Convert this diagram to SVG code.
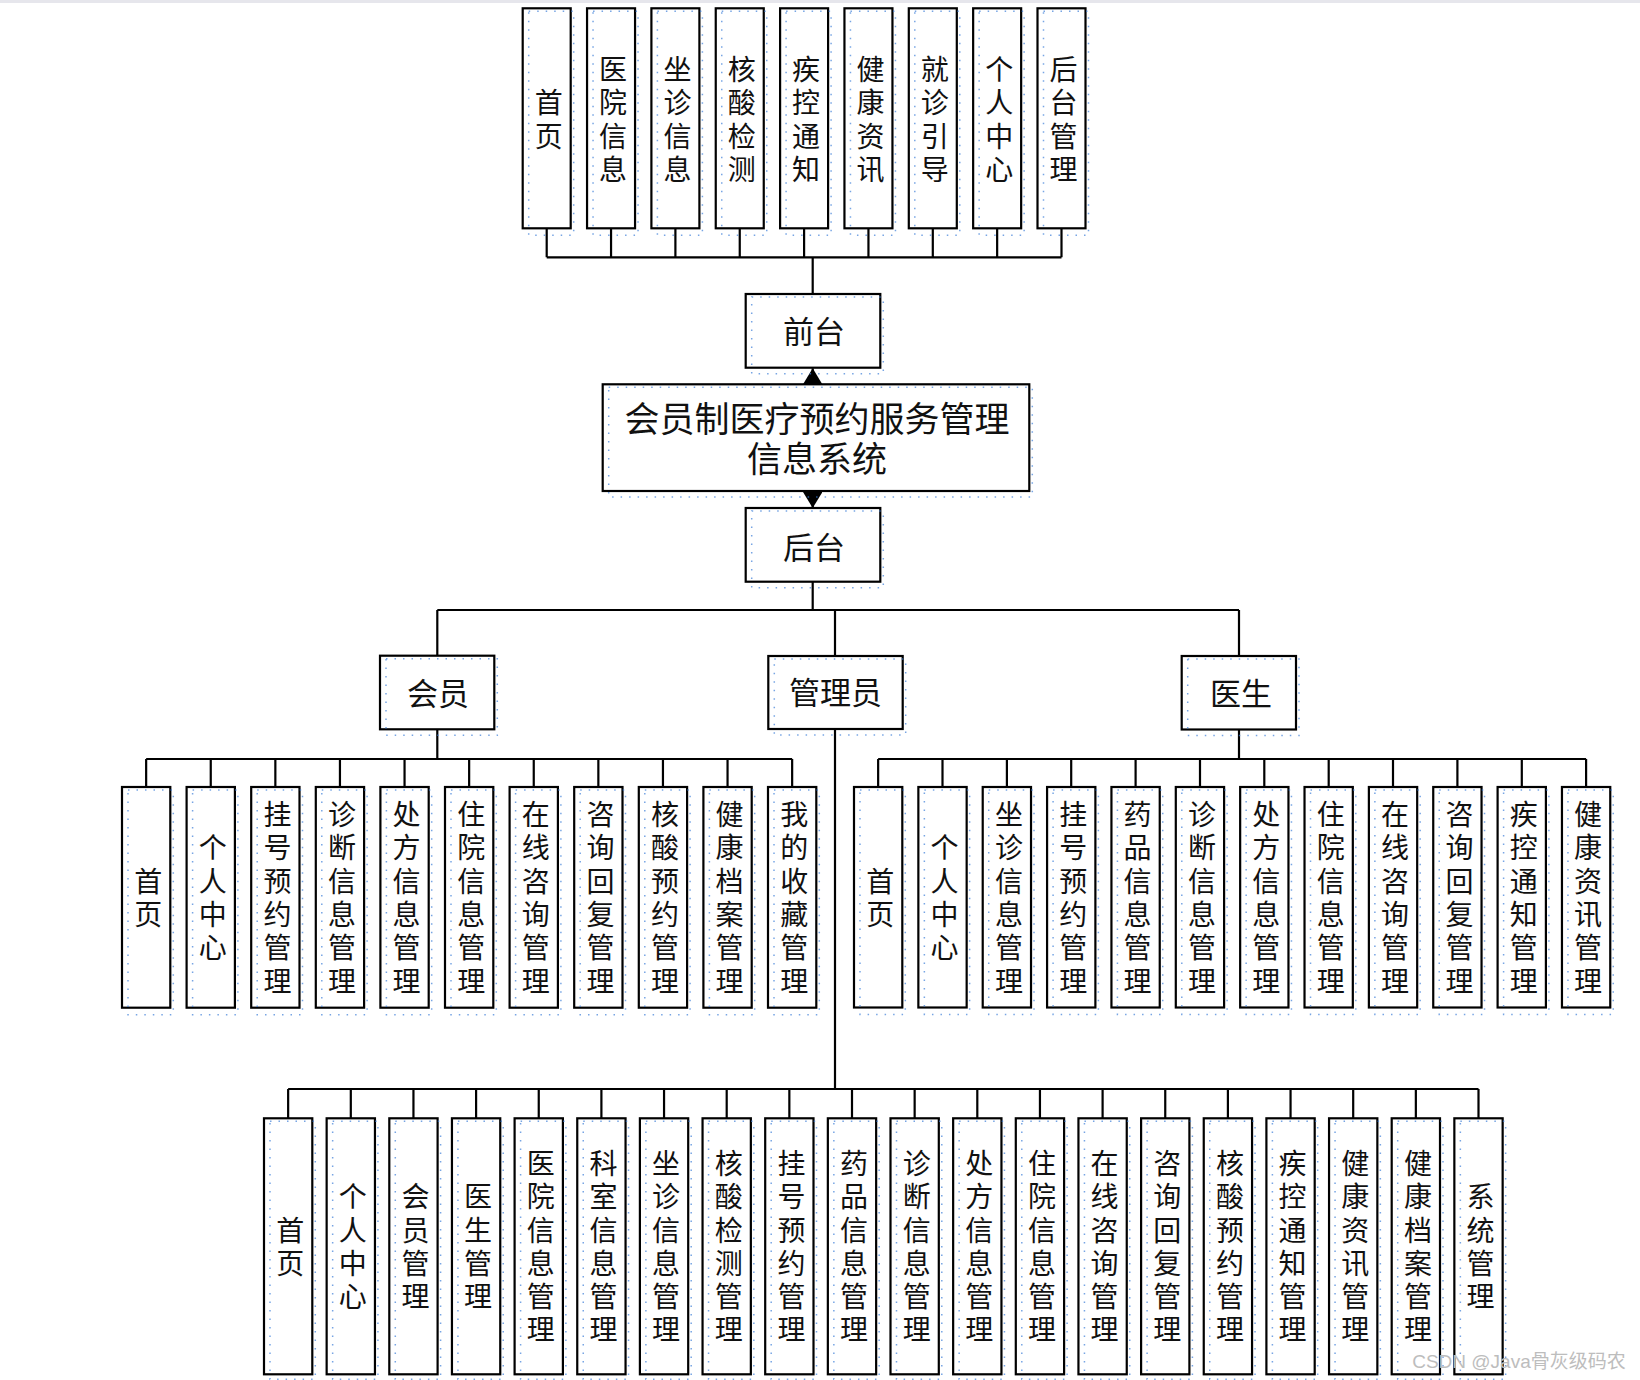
<svg xmlns="http://www.w3.org/2000/svg" width="1640" height="1380" viewBox="0 0 1640 1380">
<style>
.box{fill:#fff;stroke:#000;stroke-width:2.2}
.dot{fill:none;stroke:#3d7fd9;stroke-width:1.5;stroke-dasharray:1.5 7;opacity:.7}
.t{font-family:"Noto Sans CJK SC","Noto Sans",sans-serif;font-size:28px;fill:#111;text-anchor:middle}
.v{writing-mode:vertical-rl;letter-spacing:5.3px}
.tm{font-size:31px}
.tb{font-size:35px}
.conn path{fill:none;stroke:#000;stroke-width:2.2}
</style>
<defs>
<marker id="arr" viewBox="0 0 16 19.4" refX="16" refY="9.7" markerWidth="16" markerHeight="19.4" markerUnits="userSpaceOnUse" orient="auto"><path d="M0,0 L16,9.7 L0,19.4 z" fill="#000"/></marker>
</defs>
<rect x="0" y="0" width="1640" height="1380" fill="#fff"/>
<rect x="0" y="0" width="1640" height="3" fill="#e6e6ec"/>
<g id="connectors" class="conn">
<path d="M546.7 228.3V257.3M611.05 228.3V257.3M675.4 228.3V257.3M739.75 228.3V257.3M804.1 228.3V257.3M868.45 228.3V257.3M932.8 228.3V257.3M997.15 228.3V257.3M1061.5 228.3V257.3M546.7 257.3H1061.5M812.7 257.3V294"/>
<path d="M812.7 384.3V368.3" marker-end="url(#arr)"/>
<path d="M812.7 491V508" marker-end="url(#arr)"/>
<path d="M812.7 581.7V610M437.3 610H1239M437.3 610V655.7M835 610V656M1239 610V656"/>
<path d="M437.3 729.3V759M146.15 759H792.15M146.15 759V787M210.75 759V787M275.35 759V787M339.95 759V787M404.55 759V787M469.15 759V787M533.75 759V787M598.35 759V787M662.95 759V787M727.55 759V787M792.15 759V787"/>
<path d="M1239 729.5V759M878.15 759H1586.1M878.15 759V787M942.5 759V787M1006.9 759V787M1071.2 759V787M1135.6 759V787M1200 759V787M1264.3 759V787M1328.7 759V787M1393 759V787M1457.4 759V787M1521.8 759V787M1586.1 759V787"/>
<path d="M835 729V1089M288.15 1089H1478.5M288.15 1089V1118.3M350.8 1089V1118.3M413.45 1089V1118.3M476.1 1089V1118.3M538.75 1089V1118.3M601.4 1089V1118.3M664.05 1089V1118.3M726.7 1089V1118.3M789.35 1089V1118.3M852 1089V1118.3M914.65 1089V1118.3M977.3 1089V1118.3M1039.95 1089V1118.3M1102.6 1089V1118.3M1165.25 1089V1118.3M1227.9 1089V1118.3M1290.55 1089V1118.3M1353.2 1089V1118.3M1415.85 1089V1118.3M1478.5 1089V1118.3"/>
</g>

<g id="front">
<rect class="box" x="745.7" y="294" width="134.6" height="73.7"/><rect class="dot" x="751.7" y="297" width="131.6" height="76.7"/>
<text class="t tm" x="814" y="342.6">前台</text>
</g>
<g id="system">
<rect class="box" x="602.7" y="384.3" width="426.6" height="106.7"/><rect class="dot" x="608.7" y="387.3" width="423.6" height="109.7"/>
<text class="t tb" x="817" y="431.6">会员制医疗预约服务管理</text>
<text class="t tb" x="817" y="472.3">信息系统</text>
</g>
<g id="back">
<rect class="box" x="745.7" y="508" width="134.6" height="73.7"/><rect class="dot" x="751.7" y="511" width="131.6" height="76.7"/>
<text class="t tm" x="814" y="558.5">后台</text>
</g>
<g id="member">
<rect class="box" x="380" y="655.7" width="114.3" height="73.6"/><rect class="dot" x="386" y="658.7" width="111.3" height="76.6"/>
<text class="t tm" x="438" y="705">会员</text>
</g>
<g id="admin">
<rect class="box" x="768.3" y="656" width="134.4" height="73"/><rect class="dot" x="774.3" y="659" width="131.4" height="76"/>
<text class="t tm" x="835.5" y="704">管理员</text>
</g>
<g id="doctor">
<rect class="box" x="1181.7" y="656" width="114.3" height="73.5"/><rect class="dot" x="1187.7" y="659" width="111.3" height="76.5"/>
<text class="t tm" x="1241" y="705">医生</text>
</g>

<g id="f1"><rect class="box" x="522.7" y="8.3" width="48" height="220"/><rect class="dot" x="528.7" y="11.3" width="45" height="224"/><text class="t v" x="548.7" y="122.15">首页</text></g>
<g id="f2"><rect class="box" x="587.05" y="8.3" width="48" height="220"/><rect class="dot" x="593.05" y="11.3" width="45" height="224"/><text class="t v" x="613.05" y="122.15">医院信息</text></g>
<g id="f3"><rect class="box" x="651.4" y="8.3" width="48" height="220"/><rect class="dot" x="657.4" y="11.3" width="45" height="224"/><text class="t v" x="677.4" y="122.15">坐诊信息</text></g>
<g id="f4"><rect class="box" x="715.75" y="8.3" width="48" height="220"/><rect class="dot" x="721.75" y="11.3" width="45" height="224"/><text class="t v" x="741.75" y="122.15">核酸检测</text></g>
<g id="f5"><rect class="box" x="780.1" y="8.3" width="48" height="220"/><rect class="dot" x="786.1" y="11.3" width="45" height="224"/><text class="t v" x="806.1" y="122.15">疾控通知</text></g>
<g id="f6"><rect class="box" x="844.45" y="8.3" width="48" height="220"/><rect class="dot" x="850.45" y="11.3" width="45" height="224"/><text class="t v" x="870.45" y="122.15">健康资讯</text></g>
<g id="f7"><rect class="box" x="908.8" y="8.3" width="48" height="220"/><rect class="dot" x="914.8" y="11.3" width="45" height="224"/><text class="t v" x="934.8" y="122.15">就诊引导</text></g>
<g id="f8"><rect class="box" x="973.15" y="8.3" width="48" height="220"/><rect class="dot" x="979.15" y="11.3" width="45" height="224"/><text class="t v" x="999.15" y="122.15">个人中心</text></g>
<g id="f9"><rect class="box" x="1037.5" y="8.3" width="48" height="220"/><rect class="dot" x="1043.5" y="11.3" width="45" height="224"/><text class="t v" x="1063.5" y="122.15">后台管理</text></g>

<g id="m1"><rect class="box" x="122" y="787" width="48.3" height="220.7"/><rect class="dot" x="128" y="790" width="45.3" height="224.7"/><text class="t v" x="148.2" y="900.45">首页</text></g>
<g id="m2"><rect class="box" x="186.6" y="787" width="48.3" height="220.7"/><rect class="dot" x="192.6" y="790" width="45.3" height="224.7"/><text class="t v" x="212.8" y="900.45">个人中心</text></g>
<g id="m3"><rect class="box" x="251.2" y="787" width="48.3" height="220.7"/><rect class="dot" x="257.2" y="790" width="45.3" height="224.7"/><text class="t v" x="277.4" y="900.45">挂号预约管理</text></g>
<g id="m4"><rect class="box" x="315.8" y="787" width="48.3" height="220.7"/><rect class="dot" x="321.8" y="790" width="45.3" height="224.7"/><text class="t v" x="342" y="900.45">诊断信息管理</text></g>
<g id="m5"><rect class="box" x="380.4" y="787" width="48.3" height="220.7"/><rect class="dot" x="386.4" y="790" width="45.3" height="224.7"/><text class="t v" x="406.6" y="900.45">处方信息管理</text></g>
<g id="m6"><rect class="box" x="445" y="787" width="48.3" height="220.7"/><rect class="dot" x="451" y="790" width="45.3" height="224.7"/><text class="t v" x="471.2" y="900.45">住院信息管理</text></g>
<g id="m7"><rect class="box" x="509.6" y="787" width="48.3" height="220.7"/><rect class="dot" x="515.6" y="790" width="45.3" height="224.7"/><text class="t v" x="535.8" y="900.45">在线咨询管理</text></g>
<g id="m8"><rect class="box" x="574.2" y="787" width="48.3" height="220.7"/><rect class="dot" x="580.2" y="790" width="45.3" height="224.7"/><text class="t v" x="600.4" y="900.45">咨询回复管理</text></g>
<g id="m9"><rect class="box" x="638.8" y="787" width="48.3" height="220.7"/><rect class="dot" x="644.8" y="790" width="45.3" height="224.7"/><text class="t v" x="665" y="900.45">核酸预约管理</text></g>
<g id="m10"><rect class="box" x="703.4" y="787" width="48.3" height="220.7"/><rect class="dot" x="709.4" y="790" width="45.3" height="224.7"/><text class="t v" x="729.6" y="900.45">健康档案管理</text></g>
<g id="m11"><rect class="box" x="768" y="787" width="48.3" height="220.7"/><rect class="dot" x="774" y="790" width="45.3" height="224.7"/><text class="t v" x="794.2" y="900.45">我的收藏管理</text></g>

<g id="d1"><rect class="box" x="854" y="787" width="48.3" height="220.5"/><rect class="dot" x="860" y="790" width="45.3" height="224.5"/><text class="t v" x="880.2" y="900.45">首页</text></g>
<g id="d2"><rect class="box" x="918.36" y="787" width="48.3" height="220.5"/><rect class="dot" x="924.36" y="790" width="45.3" height="224.5"/><text class="t v" x="944.5" y="900.45">个人中心</text></g>
<g id="d3"><rect class="box" x="982.72" y="787" width="48.3" height="220.5"/><rect class="dot" x="988.72" y="790" width="45.3" height="224.5"/><text class="t v" x="1008.9" y="900.45">坐诊信息管理</text></g>
<g id="d4"><rect class="box" x="1047.08" y="787" width="48.3" height="220.5"/><rect class="dot" x="1053.08" y="790" width="45.3" height="224.5"/><text class="t v" x="1073.2" y="900.45">挂号预约管理</text></g>
<g id="d5"><rect class="box" x="1111.44" y="787" width="48.3" height="220.5"/><rect class="dot" x="1117.44" y="790" width="45.3" height="224.5"/><text class="t v" x="1137.6" y="900.45">药品信息管理</text></g>
<g id="d6"><rect class="box" x="1175.8" y="787" width="48.3" height="220.5"/><rect class="dot" x="1181.8" y="790" width="45.3" height="224.5"/><text class="t v" x="1202" y="900.45">诊断信息管理</text></g>
<g id="d7"><rect class="box" x="1240.16" y="787" width="48.3" height="220.5"/><rect class="dot" x="1246.16" y="790" width="45.3" height="224.5"/><text class="t v" x="1266.3" y="900.45">处方信息管理</text></g>
<g id="d8"><rect class="box" x="1304.52" y="787" width="48.3" height="220.5"/><rect class="dot" x="1310.52" y="790" width="45.3" height="224.5"/><text class="t v" x="1330.7" y="900.45">住院信息管理</text></g>
<g id="d9"><rect class="box" x="1368.88" y="787" width="48.3" height="220.5"/><rect class="dot" x="1374.88" y="790" width="45.3" height="224.5"/><text class="t v" x="1395" y="900.45">在线咨询管理</text></g>
<g id="d10"><rect class="box" x="1433.24" y="787" width="48.3" height="220.5"/><rect class="dot" x="1439.24" y="790" width="45.3" height="224.5"/><text class="t v" x="1459.4" y="900.45">咨询回复管理</text></g>
<g id="d11"><rect class="box" x="1497.6" y="787" width="48.3" height="220.5"/><rect class="dot" x="1503.6" y="790" width="45.3" height="224.5"/><text class="t v" x="1523.8" y="900.45">疾控通知管理</text></g>
<g id="d12"><rect class="box" x="1561.96" y="787" width="48.3" height="220.5"/><rect class="dot" x="1567.96" y="790" width="45.3" height="224.5"/><text class="t v" x="1588.1" y="900.45">健康资讯管理</text></g>

<g id="a1"><rect class="box" x="264" y="1118.3" width="48.3" height="256"/><rect class="dot" x="270" y="1121.3" width="45.3" height="258"/><text class="t v" x="290.2" y="1249.25">首页</text></g>
<g id="a2"><rect class="box" x="326.65" y="1118.3" width="48.3" height="256"/><rect class="dot" x="332.65" y="1121.3" width="45.3" height="258"/><text class="t v" x="352.8" y="1249.25">个人中心</text></g>
<g id="a3"><rect class="box" x="389.3" y="1118.3" width="48.3" height="256"/><rect class="dot" x="395.3" y="1121.3" width="45.3" height="258"/><text class="t v" x="415.5" y="1249.25">会员管理</text></g>
<g id="a4"><rect class="box" x="451.95" y="1118.3" width="48.3" height="256"/><rect class="dot" x="457.95" y="1121.3" width="45.3" height="258"/><text class="t v" x="478.1" y="1249.25">医生管理</text></g>
<g id="a5"><rect class="box" x="514.6" y="1118.3" width="48.3" height="256"/><rect class="dot" x="520.6" y="1121.3" width="45.3" height="258"/><text class="t v" x="540.8" y="1249.25">医院信息管理</text></g>
<g id="a6"><rect class="box" x="577.25" y="1118.3" width="48.3" height="256"/><rect class="dot" x="583.25" y="1121.3" width="45.3" height="258"/><text class="t v" x="603.4" y="1249.25">科室信息管理</text></g>
<g id="a7"><rect class="box" x="639.9" y="1118.3" width="48.3" height="256"/><rect class="dot" x="645.9" y="1121.3" width="45.3" height="258"/><text class="t v" x="666.1" y="1249.25">坐诊信息管理</text></g>
<g id="a8"><rect class="box" x="702.55" y="1118.3" width="48.3" height="256"/><rect class="dot" x="708.55" y="1121.3" width="45.3" height="258"/><text class="t v" x="728.7" y="1249.25">核酸检测管理</text></g>
<g id="a9"><rect class="box" x="765.2" y="1118.3" width="48.3" height="256"/><rect class="dot" x="771.2" y="1121.3" width="45.3" height="258"/><text class="t v" x="791.4" y="1249.25">挂号预约管理</text></g>
<g id="a10"><rect class="box" x="827.85" y="1118.3" width="48.3" height="256"/><rect class="dot" x="833.85" y="1121.3" width="45.3" height="258"/><text class="t v" x="854" y="1249.25">药品信息管理</text></g>
<g id="a11"><rect class="box" x="890.5" y="1118.3" width="48.3" height="256"/><rect class="dot" x="896.5" y="1121.3" width="45.3" height="258"/><text class="t v" x="916.7" y="1249.25">诊断信息管理</text></g>
<g id="a12"><rect class="box" x="953.15" y="1118.3" width="48.3" height="256"/><rect class="dot" x="959.15" y="1121.3" width="45.3" height="258"/><text class="t v" x="979.3" y="1249.25">处方信息管理</text></g>
<g id="a13"><rect class="box" x="1015.8" y="1118.3" width="48.3" height="256"/><rect class="dot" x="1021.8" y="1121.3" width="45.3" height="258"/><text class="t v" x="1042" y="1249.25">住院信息管理</text></g>
<g id="a14"><rect class="box" x="1078.45" y="1118.3" width="48.3" height="256"/><rect class="dot" x="1084.45" y="1121.3" width="45.3" height="258"/><text class="t v" x="1104.6" y="1249.25">在线咨询管理</text></g>
<g id="a15"><rect class="box" x="1141.1" y="1118.3" width="48.3" height="256"/><rect class="dot" x="1147.1" y="1121.3" width="45.3" height="258"/><text class="t v" x="1167.3" y="1249.25">咨询回复管理</text></g>
<g id="a16"><rect class="box" x="1203.75" y="1118.3" width="48.3" height="256"/><rect class="dot" x="1209.75" y="1121.3" width="45.3" height="258"/><text class="t v" x="1229.9" y="1249.25">核酸预约管理</text></g>
<g id="a17"><rect class="box" x="1266.4" y="1118.3" width="48.3" height="256"/><rect class="dot" x="1272.4" y="1121.3" width="45.3" height="258"/><text class="t v" x="1292.6" y="1249.25">疾控通知管理</text></g>
<g id="a18"><rect class="box" x="1329.05" y="1118.3" width="48.3" height="256"/><rect class="dot" x="1335.05" y="1121.3" width="45.3" height="258"/><text class="t v" x="1355.2" y="1249.25">健康资讯管理</text></g>
<g id="a19"><rect class="box" x="1391.7" y="1118.3" width="48.3" height="256"/><rect class="dot" x="1397.7" y="1121.3" width="45.3" height="258"/><text class="t v" x="1417.9" y="1249.25">健康档案管理</text></g>
<g id="a20"><rect class="box" x="1454.35" y="1118.3" width="48.3" height="256"/><rect class="dot" x="1460.35" y="1121.3" width="45.3" height="258"/><text class="t v" x="1480.5" y="1249.25">系统管理</text></g>

<text x="1519" y="1368" font-family="Liberation Sans,'Noto Sans CJK SC',sans-serif" font-size="19" fill="#bdbdbd" text-anchor="middle">CSDN @Java骨灰级码农</text>
</svg>
